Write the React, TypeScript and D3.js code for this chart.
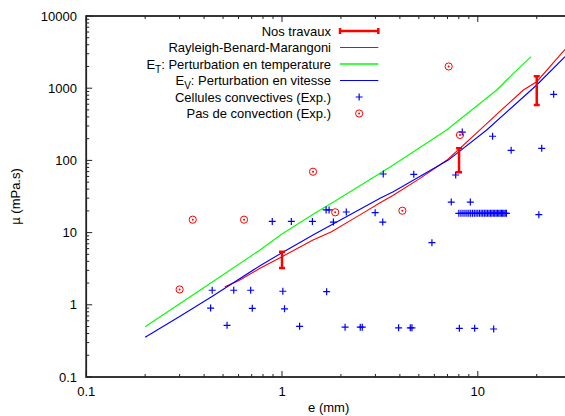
import React from "react";
import * as d3 from "d3";

// ---- data ----
const xTickMajor = [0.1, 1, 10];
const xTickLabels = ["0.1", "1", "10"];
const yTickMajor = [0.1, 1, 10, 100, 1000, 10000];
const yTickLabels = ["0.1", "1", "10", "100", "1000", "10000"];

// Nos travaux: [x, low, high]
const nosTravaux: [number, number, number][] = [
  [1.0, 3.23, 5.44],
  [8.02, 68.4, 147],
  [20.0, 585, 1462],
];

// Rayleigh-Benard-Marangoni
const rbm: [number, number][] = [
  [0.51, 1.78], [0.6, 2.15], [0.772, 3.2], [1.0, 4.64], [1.44, 7.9], [1.79, 10.3],
  [2.5, 17.6], [3.17, 25.9], [3.7, 33], [5, 55], [7.0, 102], [10.26, 264],
  [13, 480], [17.1, 944], [20, 1230], [27.9, 3456],
];

// E_T: perturbation en temperature
const eT: [number, number][] = [
  [0.2, 0.497], [0.4, 1.74], [0.772, 5.74], [1.0, 9.56], [1.47, 18.5], [1.79, 25.5],
  [3.17, 66.3], [3.7, 86.3], [6.93, 264], [12.5, 944], [15.2, 1600], [18.7, 2730],
];

// E_V: perturbation en vitesse
const eV: [number, number][] = [
  [0.2, 0.355], [0.3, 0.69], [0.437, 1.29], [0.772, 3.48], [1.0, 5.27], [1.47, 9.56],
  [2.2, 17.4], [3.17, 29.9], [3.7, 36.9], [5, 59], [7.07, 101], [11.1, 264],
  [15, 549], [20, 1107], [27.9, 2730],
];

// Cellules convectives (Exp.)
const cellulesLow: [number, number][] = [
  [0.44, 1.59], [0.567, 1.59], [0.692, 1.59], [0.432, 0.9], [0.705, 0.895], [0.524, 0.52],
  [1.01, 1.54], [1.69, 1.52], [1.03, 0.88], [1.23, 0.504], [2.1, 0.49], [2.51, 0.49],
  [2.57, 0.49], [3.94, 0.48], [4.52, 0.48], [4.61, 0.48], [8.05, 0.472], [9.64, 0.472],
  [12.05, 0.462],
];
const cellulesMid: [number, number][] = [
  [5.83, 7.25], [0.892, 14.3], [1.116, 14.3], [1.43, 14.3], [1.68, 20.6], [1.74, 20.6],
  [1.83, 14.0], [2.13, 19.3], [2.99, 18.9], [3.27, 14.0], [3.29, 64.8], [4.71, 64.2],
  [7.71, 62.8], [7.32, 26.5], [9.16, 26.5], [11.9, 216], [14.8, 138], [21.2, 147],
  [20.5, 17.7], [8.33, 247], [24.4, 823],
];
const cellulesDenseX = [
  8.0, 8.2, 8.4, 8.6, 8.8, 9.0, 9.2, 9.4, 9.6, 9.8, 10.0, 10.2, 10.4, 10.6, 10.8, 11.0,
  11.2, 11.4, 11.6, 11.8, 12.0, 12.2, 12.4, 12.6, 12.8, 13.0, 13.2, 13.4, 13.6, 13.8, 14.0,
];
const cellulesDenseY = 18.5;

// Pas de convection (Exp.)
const pasConvection: [number, number][] = [
  [0.3, 1.63], [0.35, 15.1], [0.64, 15.1], [1.44, 69.7], [1.87, 19.1], [4.12, 20.1],
  [7.1, 2000], [8.11, 225],
];

const legendLabels = [
  "Nos travaux",
  "Rayleigh-Benard-Marangoni",
  "T",
  "V",
  "Cellules convectives (Exp.)",
  "Pas de convection (Exp.)",
];

// ---- layout ----
const W = 565;
const H = 416;
const left = 86.2;
const top = 16;
const bottom = 377;
const right = left + 195.8 * Math.log10(300);

const FONT = "'Liberation Sans', Arial, Helvetica, sans-serif";

export default function App() {
  const x = d3.scaleLog().domain([0.1, 30]).range([left, right]);
  const y = d3.scaleLog().domain([0.1, 10000]).range([bottom, top]);

  const line = d3
    .line<[number, number]>()
    .x((d) => x(d[0]))
    .y((d) => y(d[1]));

  const xMinor: number[] = [];
  [0.1, 1, 10].forEach((dec) => {
    for (let k = 2; k <= 9; k++) {
      const v = dec * k;
      if (v <= 30) xMinor.push(v);
    }
  });
  const yMinor: number[] = [];
  [0.1, 1, 10, 100, 1000].forEach((dec) => {
    for (let k = 2; k <= 9; k++) yMinor.push(dec * k);
  });

  const allCrosses: [number, number][] = [
    ...cellulesLow,
    ...cellulesMid,
    ...cellulesDenseX.map((v) => [v, cellulesDenseY] as [number, number]),
  ];

  const cross = (cx: number, cy: number, key: string, s = 3.5) => (
    <path
      key={key}
      d={`M${cx - s},${cy}H${cx + s}M${cx},${cy - s}V${cy + s}`}
      stroke="#0000ff"
      strokeWidth={1.2}
      fill="none"
    />
  );
  const circ = (cx: number, cy: number, key: string) => (
    <g key={key}>
      <circle cx={cx} cy={cy} r={3.6} stroke="#ff0000" strokeWidth={1} fill="none" />
      <circle cx={cx} cy={cy} r={1} fill="#ff0000" />
    </g>
  );

  const majT = 6;
  const minT = 3;
  const axisColor = "#222";

  const legX1 = 340;
  const legX2 = 378.3;
  const legTextX = 331;
  const legY0 = 31;
  const legDy = 16.5;

  return (
    <svg
      width={W}
      height={H}
      style={{ position: "fixed", left: 0, top: 0, background: "#fff" }}
      fontFamily={FONT}
    >
      <defs>
        <clipPath id="plotclip">
          <rect x={left} y={top} width={right - left} height={bottom - top} />
        </clipPath>
      </defs>

      {/* ticks */}
      <g stroke={axisColor} strokeWidth={1}>
        {xTickMajor.map((v) => (
          <g key={"xM" + v}>
            <line x1={x(v)} x2={x(v)} y1={bottom} y2={bottom - majT} />
            <line x1={x(v)} x2={x(v)} y1={top} y2={top + majT} />
          </g>
        ))}
        {xMinor.map((v) => (
          <g key={"xm" + v}>
            <line x1={x(v)} x2={x(v)} y1={bottom} y2={bottom - minT} />
            <line x1={x(v)} x2={x(v)} y1={top} y2={top + minT} />
          </g>
        ))}
        {yTickMajor.map((v) => (
          <g key={"yM" + v}>
            <line x1={left} x2={left + majT} y1={y(v)} y2={y(v)} />
            <line x1={right} x2={right - majT} y1={y(v)} y2={y(v)} />
          </g>
        ))}
        {yMinor.map((v) => (
          <g key={"ym" + v}>
            <line x1={left} x2={left + minT} y1={y(v)} y2={y(v)} />
            <line x1={right} x2={right - minT} y1={y(v)} y2={y(v)} />
          </g>
        ))}
      </g>

      {/* tick labels */}
      <g fontSize={13} fill="#000">
        {xTickMajor.map((v, i) => (
          <text key={"xl" + v} x={x(v)} y={396} textAnchor="middle">
            {xTickLabels[i]}
          </text>
        ))}
        {yTickMajor.map((v, i) => (
          <text key={"yl" + v} x={77} y={y(v) + 4.5} textAnchor="end">
            {yTickLabels[i]}
          </text>
        ))}
        <text x={(left + right) / 2} y={412} textAnchor="middle">
          e (mm)
        </text>
        <text
          transform={`translate(20,${(top + bottom) / 2}) rotate(-90)`}
          textAnchor="middle"
        >
          µ (mPa.s)
        </text>
      </g>

      {/* curves */}
      <g clipPath="url(#plotclip)" fill="none">
        <path d={line(rbm) || ""} stroke="#ff0000" strokeWidth={1.1} />
        <path d={line(eT) || ""} stroke="#00ff00" strokeWidth={1.1} />
        <path d={line(eV) || ""} stroke="#0000ff" strokeWidth={1.1} />
      </g>

      {/* points */}
      <g clipPath="url(#plotclip)">
        {allCrosses.map((d, i) => cross(x(d[0]), y(d[1]), "c" + i))}
        {pasConvection.map((d, i) => circ(x(d[0]), y(d[1]), "p" + i))}
        {nosTravaux.map((d, i) => {
          const cx = x(d[0]);
          return (
            <g key={"e" + i} stroke="#ff0000" strokeWidth={2.5}>
              <line x1={cx} x2={cx} y1={y(d[1])} y2={y(d[2])} />
              <line x1={cx - 3} x2={cx + 3} y1={y(d[1])} y2={y(d[1])} />
              <line x1={cx - 3} x2={cx + 3} y1={y(d[2])} y2={y(d[2])} />
            </g>
          );
        })}
      </g>

      {/* legend */}
      <g fontSize={13} fill="#000">
        <text x={legTextX} y={legY0 + 4.5} textAnchor="end">{legendLabels[0]}</text>
        <text x={legTextX} y={legY0 + legDy + 4.5} textAnchor="end">{legendLabels[1]}</text>
        <text x={legTextX} y={legY0 + 2 * legDy + 4.5} textAnchor="end">
          E<tspan dy={4} fontSize={10}>{legendLabels[2]}</tspan>
          <tspan dy={-4}>: Perturbation en temperature</tspan>
        </text>
        <text x={legTextX} y={legY0 + 3 * legDy + 4.5} textAnchor="end">
          E<tspan dy={4} fontSize={10}>{legendLabels[3]}</tspan>
          <tspan dy={-4}>: Perturbation en vitesse</tspan>
        </text>
        <text x={legTextX} y={legY0 + 4 * legDy + 4.5} textAnchor="end">{legendLabels[4]}</text>
        <text x={legTextX} y={legY0 + 5 * legDy + 4.5} textAnchor="end">{legendLabels[5]}</text>
      </g>
      <g>
        <g stroke="#ff0000" strokeWidth={2.5}>
          <line x1={legX1} x2={legX2} y1={legY0} y2={legY0} />
          <line x1={legX1} x2={legX1} y1={legY0 - 3} y2={legY0 + 3} />
          <line x1={legX2} x2={legX2} y1={legY0 - 3} y2={legY0 + 3} />
        </g>
        <line x1={legX1} x2={legX2} y1={legY0 + legDy} y2={legY0 + legDy} stroke="#ff0000" strokeWidth={1.1} />
        <line x1={legX1} x2={legX2} y1={legY0 + 2 * legDy} y2={legY0 + 2 * legDy} stroke="#00ff00" strokeWidth={1.6} />
        <line x1={legX1} x2={legX2} y1={legY0 + 3 * legDy} y2={legY0 + 3 * legDy} stroke="#0000ff" strokeWidth={1.1} />
        {cross((legX1 + legX2) / 2, legY0 + 4 * legDy, "lc")}
        {circ((legX1 + legX2) / 2, legY0 + 5 * legDy, "lp")}
      </g>

      {/* border */}
      <rect
        x={left}
        y={top}
        width={right - left}
        height={bottom - top}
        fill="none"
        stroke={axisColor}
        strokeWidth={1.8}
      />
    </svg>
  );
}
